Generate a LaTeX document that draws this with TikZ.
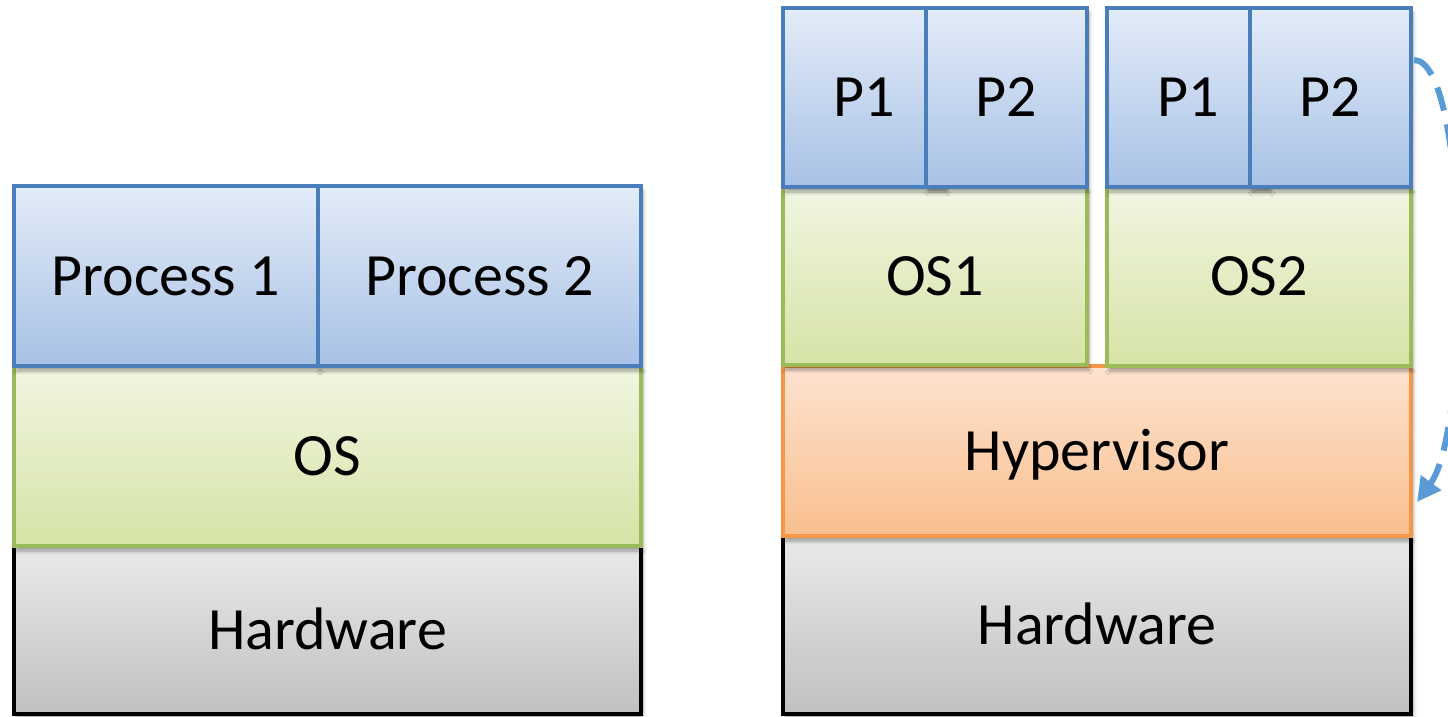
\documentclass[tikz,border=0pt]{standalone}
\usepackage{fontspec}
\setmainfont{Carlito}
\usetikzlibrary{fit,shadows.blur,arrows.meta,calc}
\definecolor{bluetop}{HTML}{E3ECF8}
\definecolor{bluebot}{HTML}{A8C1E5}
\definecolor{blueedge}{HTML}{4A7EBB}
\definecolor{greentop}{HTML}{F1F6E2}
\definecolor{greenbot}{HTML}{D6E3A6}
\definecolor{greenedge}{HTML}{9BBB59}
\definecolor{orangetop}{HTML}{FDE3D0}
\definecolor{orangebot}{HTML}{F9BF8F}
\definecolor{orangeedge}{HTML}{F79646}
\definecolor{graytop}{HTML}{EAEAEA}
\definecolor{graybot}{HTML}{C0C0C0}
\definecolor{arrowblue}{HTML}{5B9BD5}
\begin{document}
\begin{tikzpicture}[x=0.5pt,y=-0.5pt,
  txt/.style={font=\fontsize{30}{36}\selectfont, text height=19.3pt, text depth=0pt, inner sep=0pt},
  layer/.style={rectangle, draw, line width=2pt, inner sep=0pt,
    blur shadow={shadow xshift=1pt, shadow yshift=-2.5pt, shadow blur steps=6, shadow opacity=35}},
  proc/.style={layer, draw=blueedge, top color=bluetop, bottom color=bluebot},
  osbox/.style={layer, draw=greenedge, top color=greentop, bottom color=greenbot},
  hypbox/.style={layer, draw=orangeedge, top color=orangetop, bottom color=orangebot},
  hwbox/.style={layer, draw=black, top color=graytop, bottom color=graybot},
  migrate/.style={draw=arrowblue, line width=3pt, dash pattern=on 12pt off 7pt,
    -{Triangle[length=12pt,width=12pt]}}
]
\useasboundingbox (0,0) rectangle (1448,717);
% left stack
\node[hwbox, fit={(14,546)(641,714)}, label={[txt]center:Hardware}] (hw1) {};
\node[osbox, fit={(14,366)(641,546)}, label={[txt]center:OS}] (os) {};
\node[proc, fit={(14,186)(318,366)}, label={[txt]center:Process 1}] (proc1) {};
\node[proc, fit={(318,186)(641,366)}, label={[txt]center:Process 2}] (proc2) {};
% right stack
\node[hwbox, fit={(783,536)(1411,714)}, label={[txt]center:Hardware}] (hw2) {};
\node[hypbox, fit={(783,366)(1411,536)}, label={[txt]center:Hypervisor}] (hyp) {};
\node[osbox, fit={(783,187)(1087,365)}, label={[txt]center:OS1}] (os1) {};
\node[osbox, fit={(1107,187)(1411,366)}, label={[txt]center:OS2}] (os2) {};
\node[proc, fit={(783,8)(945,187)}, label={[txt]center:P1}] (p1a) {};
\node[proc, fit={(926,8)(1087,187)}, label={[txt]center:P2}] (p2a) {};
\node[proc, fit={(1107,8)(1269,187)}, label={[txt]center:P1}] (p1b) {};
\node[proc, fit={(1250,8)(1411,187)}, label={[txt]center:P2}] (p2b) {};
% migration arrow
\coordinate (as) at ($(p2b.north east)+(1,54)$);
\coordinate (ae) at ($(hyp.south east)+(4,-36)$);
\draw[migrate] (as) .. controls +(55,0) and +(55,-75) .. (ae);
\end{tikzpicture}
\end{document}
